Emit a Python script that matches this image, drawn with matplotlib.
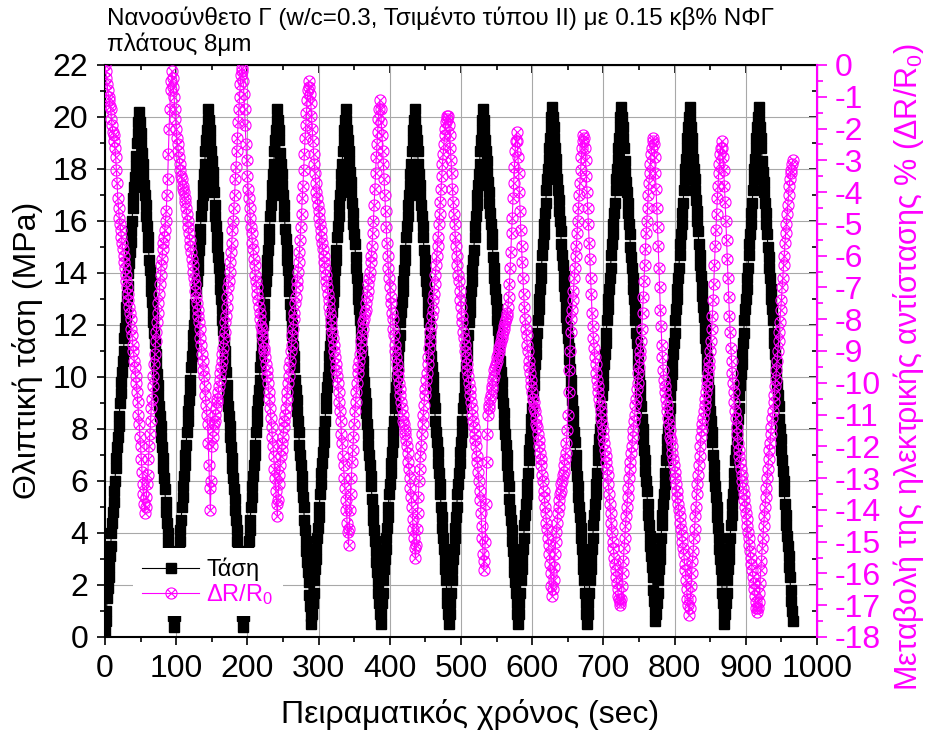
import numpy as np
import matplotlib
matplotlib.use("Agg")
import matplotlib.pyplot as plt
from matplotlib.path import Path
from matplotlib.ticker import MultipleLocator, NullFormatter

# one reading per second
time_s = np.arange(0, 967, 1)

# compressive stress (MPa), one line per loading / unloading ramp
stress_mpa = [
    0.2, 0.6, 1.0, 1.5, 1.9, 2.3, 2.7, 3.1, 3.5, 4.0, 4.4, 4.8, 5.2, 5.6, 6.0, 6.5, 6.9, 7.3, 7.7, 8.1, 8.5, 9.0, 9.4, 9.8, 10.2, 10.6, 11.0, 11.5, 11.9, 12.3, 12.7, 13.1, 13.5, 14.0, 14.4, 14.8, 15.2, 15.6, 16.0, 16.5, 16.9, 17.3, 17.7, 18.1, 18.5, 19.0, 19.4, 19.8, 20.2,
    19.8, 19.4, 19.0, 18.6, 18.2, 17.8, 17.4, 17.0, 16.6, 16.2, 15.8, 15.4, 15.0, 14.5, 14.1, 13.7, 13.3, 12.9, 12.5, 12.1, 11.7, 11.3, 10.9, 10.5, 10.1, 9.7, 9.3, 8.9, 8.5, 8.1, 7.7, 7.3, 6.9, 6.5, 6.1, 5.7, 5.2, 4.8, 4.4, 4.0, 3.6, 3.2, 2.8, 2.4, 2.0, 1.6, 1.2, 0.8, 0.4,
    0.8, 1.2, 1.6, 2.1, 2.5, 2.9, 3.3, 3.7, 4.1, 4.5, 5.0, 5.4, 5.8, 6.2, 6.6, 7.0, 7.4, 7.9, 8.3, 8.7, 9.1, 9.5, 9.9, 10.4, 10.8, 11.2, 11.6, 12.0, 12.4, 12.8, 13.3, 13.7, 14.1, 14.5, 14.9, 15.3, 15.7, 16.2, 16.6, 17.0, 17.4, 17.8, 18.2, 18.7, 19.1, 19.5, 19.9, 20.3,
    19.9, 19.5, 19.1, 18.7, 18.3, 17.9, 17.5, 17.1, 16.6, 16.2, 15.8, 15.4, 15.0, 14.6, 14.2, 13.8, 13.4, 13.0, 12.6, 12.2, 11.8, 11.4, 11.0, 10.6, 10.2, 9.7, 9.3, 8.9, 8.5, 8.1, 7.7, 7.3, 6.9, 6.5, 6.1, 5.7, 5.3, 4.9, 4.5, 4.1, 3.7, 3.3, 2.9, 2.4, 2.0, 1.6, 1.2, 0.8, 0.4,
    0.8, 1.2, 1.6, 2.1, 2.5, 2.9, 3.3, 3.7, 4.1, 4.5, 5.0, 5.4, 5.8, 6.2, 6.6, 7.0, 7.4, 7.9, 8.3, 8.7, 9.1, 9.5, 9.9, 10.4, 10.8, 11.2, 11.6, 12.0, 12.4, 12.8, 13.3, 13.7, 14.1, 14.5, 14.9, 15.3, 15.7, 16.2, 16.6, 17.0, 17.4, 17.8, 18.2, 18.7, 19.1, 19.5, 19.9, 20.3,
    19.9, 19.5, 19.1, 18.6, 18.2, 17.8, 17.4, 17.0, 16.6, 16.2, 15.7, 15.3, 14.9, 14.5, 14.1, 13.7, 13.3, 12.8, 12.4, 12.0, 11.6, 11.2, 10.8, 10.4, 9.9, 9.5, 9.1, 8.7, 8.3, 7.9, 7.4, 7.0, 6.6, 6.2, 5.8, 5.4, 5.0, 4.5, 4.1, 3.7, 3.3, 2.9, 2.5, 2.1, 1.6, 1.2, 0.8, 0.5,
    0.9, 1.3, 1.7, 2.2, 2.6, 3.0, 3.4, 3.8, 4.2, 4.6, 5.0, 5.5, 5.9, 6.3, 6.7, 7.1, 7.5, 7.9, 8.3, 8.8, 9.2, 9.6, 10.0, 10.4, 10.8, 11.2, 11.6, 12.1, 12.5, 12.9, 13.3, 13.7, 14.1, 14.5, 14.9, 15.4, 15.8, 16.2, 16.6, 17.0, 17.4, 17.8, 18.2, 18.7, 19.1, 19.5, 19.9, 20.3,
    19.9, 19.5, 19.1, 18.7, 18.3, 17.9, 17.5, 17.1, 16.7, 16.3, 15.9, 15.5, 15.1, 14.6, 14.2, 13.8, 13.4, 13.0, 12.6, 12.2, 11.8, 11.4, 11.0, 10.6, 10.2, 9.8, 9.4, 9.0, 8.6, 8.2, 7.8, 7.4, 7.0, 6.6, 6.2, 5.8, 5.3, 4.9, 4.5, 4.1, 3.7, 3.3, 2.9, 2.5, 2.1, 1.7, 1.3, 0.9, 0.5,
    0.9, 1.3, 1.7, 2.2, 2.6, 3.0, 3.4, 3.8, 4.2, 4.6, 5.0, 5.5, 5.9, 6.3, 6.7, 7.1, 7.5, 7.9, 8.3, 8.8, 9.2, 9.6, 10.0, 10.4, 10.8, 11.2, 11.6, 12.1, 12.5, 12.9, 13.3, 13.7, 14.1, 14.5, 14.9, 15.4, 15.8, 16.2, 16.6, 17.0, 17.4, 17.8, 18.2, 18.7, 19.1, 19.5, 19.9, 20.3,
    19.9, 19.5, 19.1, 18.7, 18.2, 17.8, 17.4, 17.0, 16.6, 16.2, 15.8, 15.4, 14.9, 14.5, 14.1, 13.7, 13.3, 12.9, 12.5, 12.1, 11.6, 11.2, 10.8, 10.4, 10.0, 9.6, 9.2, 8.8, 8.3, 7.9, 7.5, 7.1, 6.7, 6.3, 5.9, 5.5, 5.0, 4.6, 4.2, 3.8, 3.4, 3.0, 2.6, 2.2, 1.7, 1.3, 0.9, 0.5,
    0.9, 1.3, 1.7, 2.2, 2.6, 3.0, 3.4, 3.8, 4.2, 4.6, 5.0, 5.5, 5.9, 6.3, 6.7, 7.1, 7.5, 7.9, 8.3, 8.8, 9.2, 9.6, 10.0, 10.4, 10.8, 11.2, 11.6, 12.1, 12.5, 12.9, 13.3, 13.7, 14.1, 14.5, 14.9, 15.4, 15.8, 16.2, 16.6, 17.0, 17.4, 17.8, 18.2, 18.7, 19.1, 19.5, 19.9, 20.3,
    19.9, 19.5, 19.1, 18.7, 18.3, 17.9, 17.5, 17.1, 16.7, 16.3, 15.9, 15.5, 15.1, 14.6, 14.2, 13.8, 13.4, 13.0, 12.6, 12.2, 11.8, 11.4, 11.0, 10.6, 10.2, 9.8, 9.4, 9.0, 8.6, 8.2, 7.8, 7.4, 7.0, 6.6, 6.2, 5.8, 5.3, 4.9, 4.5, 4.1, 3.7, 3.3, 2.9, 2.5, 2.1, 1.7, 1.3, 0.9, 0.5,
    0.9, 1.3, 1.7, 2.2, 2.6, 3.0, 3.4, 3.8, 4.3, 4.7, 5.1, 5.5, 5.9, 6.3, 6.8, 7.2, 7.6, 8.0, 8.4, 8.8, 9.3, 9.7, 10.1, 10.5, 10.9, 11.3, 11.7, 12.2, 12.6, 13.0, 13.4, 13.8, 14.2, 14.7, 15.1, 15.5, 15.9, 16.3, 16.7, 17.2, 17.6, 18.0, 18.4, 18.8, 19.2, 19.6, 20.0, 20.4,
    20.0, 19.6, 19.2, 18.8, 18.4, 18.0, 17.6, 17.2, 16.8, 16.4, 16.0, 15.6, 15.1, 14.7, 14.3, 13.9, 13.5, 13.1, 12.7, 12.3, 11.9, 11.5, 11.1, 10.7, 10.3, 9.9, 9.5, 9.1, 8.7, 8.3, 7.9, 7.5, 7.0, 6.6, 6.2, 5.8, 5.4, 5.0, 4.6, 4.2, 3.8, 3.4, 3.0, 2.6, 2.2, 1.7, 1.3, 0.9, 0.5,
    0.9, 1.3, 1.7, 2.2, 2.6, 3.0, 3.4, 3.8, 4.3, 4.7, 5.1, 5.5, 5.9, 6.3, 6.8, 7.2, 7.6, 8.0, 8.4, 8.8, 9.3, 9.7, 10.1, 10.5, 10.9, 11.3, 11.7, 12.2, 12.6, 13.0, 13.4, 13.8, 14.2, 14.7, 15.1, 15.5, 15.9, 16.3, 16.7, 17.2, 17.6, 18.0, 18.4, 18.8, 19.2, 19.6, 20.0, 20.4,
    20.0, 19.6, 19.2, 18.8, 18.3, 17.9, 17.5, 17.1, 16.7, 16.3, 15.9, 15.5, 15.0, 14.6, 14.2, 13.8, 13.4, 13.0, 12.6, 12.2, 11.7, 11.3, 10.9, 10.5, 10.1, 9.7, 9.3, 8.9, 8.4, 8.0, 7.6, 7.2, 6.8, 6.4, 6.0, 5.6, 5.1, 4.7, 4.3, 3.9, 3.5, 3.1, 2.7, 2.3, 1.8, 1.4, 1.0, 0.6,
    0.9, 1.3, 1.7, 2.2, 2.6, 3.0, 3.4, 3.8, 4.3, 4.7, 5.1, 5.5, 5.9, 6.3, 6.8, 7.2, 7.6, 8.0, 8.4, 8.8, 9.3, 9.7, 10.1, 10.5, 10.9, 11.3, 11.7, 12.2, 12.6, 13.0, 13.4, 13.8, 14.2, 14.7, 15.1, 15.5, 15.9, 16.3, 16.7, 17.2, 17.6, 18.0, 18.4, 18.8, 19.2, 19.6, 20.0, 20.4,
    20.0, 19.6, 19.2, 18.8, 18.4, 18.0, 17.6, 17.2, 16.8, 16.4, 16.0, 15.6, 15.1, 14.7, 14.3, 13.9, 13.5, 13.1, 12.7, 12.3, 11.9, 11.5, 11.1, 10.7, 10.3, 9.9, 9.5, 9.1, 8.7, 8.3, 7.9, 7.5, 7.0, 6.6, 6.2, 5.8, 5.4, 5.0, 4.6, 4.2, 3.8, 3.4, 3.0, 2.6, 2.2, 1.7, 1.3, 0.9, 0.5,
    0.9, 1.3, 1.7, 2.2, 2.6, 3.0, 3.4, 3.8, 4.3, 4.7, 5.1, 5.5, 5.9, 6.3, 6.8, 7.2, 7.6, 8.0, 8.4, 8.8, 9.3, 9.7, 10.1, 10.5, 10.9, 11.3, 11.7, 12.2, 12.6, 13.0, 13.4, 13.8, 14.2, 14.7, 15.1, 15.5, 15.9, 16.3, 16.7, 17.2, 17.6, 18.0, 18.4, 18.8, 19.2, 19.6, 20.0, 20.4,
    20.0, 19.6, 19.2, 18.8, 18.3, 17.9, 17.5, 17.1, 16.7, 16.3, 15.9, 15.5, 15.0, 14.6, 14.2, 13.8, 13.4, 13.0, 12.6, 12.2, 11.7, 11.3, 10.9, 10.5, 10.1, 9.7, 9.3, 8.9, 8.4, 8.0, 7.6, 7.2, 6.8, 6.4, 6.0, 5.6, 5.1, 4.7, 4.3, 3.9, 3.5, 3.1, 2.7, 2.3, 1.8, 1.4, 1.0, 0.6,
]

# change of electrical resistance (%), one line per falling / rising branch
dr_r0 = [
    0.0, -0.2, -0.4, -0.6, -0.8, -1.0, -1.1, -1.3, -1.4, -1.7, -1.9, -2.1, -2.2, -2.4, -2.6, -2.9, -3.3, -3.7, -4.2, -4.5, -4.8, -5.0, -5.2, -5.4, -5.6, -5.8, -6.0, -6.2, -6.4, -6.6, -6.8, -7.0, -7.2, -7.4, -7.6, -7.8, -8.0, -8.3, -8.5, -8.8, -9.0, -9.3, -9.5, -9.8, -10.0, -10.3, -10.6, -11.0, -11.3, -11.7, -12.0, -12.4, -12.8, -13.2, -13.5, -13.8, -14.1,
    -13.9, -13.6, -13.2, -12.9, -12.4, -12.0, -11.6, -11.2, -10.8, -10.5, -10.1, -9.8, -9.4, -9.1, -8.7, -8.4, -8.1, -7.8, -7.5, -7.2, -6.9, -6.6, -6.3, -6.1, -5.8, -5.6, -5.4, -5.2, -4.9, -4.6, -4.1, -3.6, -2.8, -2.0, -1.4, -0.8, -0.5, -0.2,
    -0.4, -0.7, -1.0, -1.4, -1.7, -2.0, -2.3, -2.5, -2.7, -2.9, -3.1, -3.3, -3.5, -3.6, -3.8, -3.9, -4.0, -4.2, -4.3, -4.5, -4.7, -4.9, -5.1, -5.3, -5.5, -5.7, -5.9, -6.1, -6.3, -6.5, -6.7, -6.9, -7.1, -7.3, -7.5, -7.7, -7.9, -8.1, -8.3, -8.6, -8.8, -9.1, -9.3, -9.6, -9.8, -10.1, -10.4, -10.7, -11.0, -11.3, -11.9, -12.6, -13.3, -14.0,
    -13.1, -12.0, -11.7, -11.5, -11.3, -11.2, -11.0, -10.8, -10.6, -10.5, -10.3, -10.1, -9.9, -9.7, -9.5, -9.3, -9.1, -8.9, -8.6, -8.4, -8.1, -7.9, -7.6, -7.3, -7.0, -6.8, -6.5, -6.2, -5.9, -5.6, -5.2, -4.9, -4.5, -4.1, -3.6, -3.2, -2.7, -2.3, -1.8, -1.4, -1.0, -0.6, -0.3, -0.1,
    -0.2, -0.5, -0.9, -1.4, -1.9, -2.5, -3.0, -3.5, -3.9, -4.2, -4.5, -4.8, -5.1, -5.3, -5.6, -5.8, -6.1, -6.3, -6.6, -6.8, -7.0, -7.2, -7.4, -7.6, -7.8, -8.0, -8.2, -8.3, -8.5, -8.7, -8.9, -9.0, -9.2, -9.4, -9.6, -9.8, -10.0, -10.3, -10.5, -10.8, -11.1, -11.4, -11.7, -12.0, -12.3, -12.7, -13.0, -13.4, -13.8, -14.2,
    -13.7, -13.2, -12.9, -12.6, -12.3, -12.1, -11.9, -11.7, -11.4, -11.2, -11.0, -10.8, -10.5, -10.3, -10.0, -9.8, -9.5, -9.3, -9.0, -8.8, -8.5, -8.3, -8.0, -7.8, -7.5, -7.3, -7.0, -6.8, -6.5, -6.2, -5.9, -5.5, -5.1, -4.7, -4.2, -3.8, -3.3, -2.8, -2.3, -1.9, -1.5, -1.1, -0.8, -0.5,
    -0.7, -0.9, -1.2, -1.6, -2.0, -2.4, -2.8, -3.1, -3.4, -3.7, -4.0, -4.2, -4.4, -4.6, -4.8, -5.0, -5.2, -5.4, -5.6, -5.8, -6.0, -6.2, -6.4, -6.6, -6.8, -7.0, -7.2, -7.4, -7.6, -7.8, -8.0, -8.2, -8.4, -8.6, -8.8, -9.0, -9.2, -9.4, -9.6, -9.8, -10.0, -10.3, -10.6, -10.9, -11.2, -11.6, -11.9, -12.3, -12.6, -13.0, -13.3, -13.7, -14.0, -14.4, -14.7, -15.1,
    -14.6, -14.0, -13.5, -13.0, -12.5, -12.1, -11.7, -11.3, -10.9, -10.6, -10.3, -10.0, -9.7, -9.5, -9.3, -9.1, -8.9, -8.7, -8.5, -8.3, -8.1, -8.0, -7.8, -7.7, -7.5, -7.3, -7.1, -6.9, -6.7, -6.5, -6.2, -6.0, -5.7, -5.3, -4.9, -4.4, -3.9, -3.4, -2.9, -2.5, -2.1, -1.7, -1.4, -1.1,
    -1.4, -1.8, -2.2, -2.7, -3.1, -3.6, -4.1, -4.6, -5.1, -5.6, -6.0, -6.4, -6.7, -7.0, -7.3, -7.5, -7.8, -8.0, -8.3, -8.5, -8.8, -9.0, -9.2, -9.4, -9.6, -9.8, -10.0, -10.2, -10.4, -10.6, -10.8, -11.0, -11.2, -11.3, -11.5, -11.6, -11.8, -12.0, -12.2, -12.5, -12.7, -13.0, -13.3, -13.6, -13.9, -14.3, -14.6, -14.9, -15.2, -15.5,
    -15.1, -14.6, -14.1, -13.6, -13.1, -12.7, -12.3, -12.0, -11.6, -11.3, -11.0, -10.7, -10.4, -10.2, -9.9, -9.7, -9.4, -9.2, -8.9, -8.7, -8.4, -8.2, -7.9, -7.7, -7.4, -7.2, -6.9, -6.6, -6.3, -6.0, -5.7, -5.4, -5.0, -4.7, -4.3, -3.9, -3.5, -3.1, -2.8, -2.5, -2.2, -2.0, -1.8, -1.7, -1.6, -1.6,
    -1.9, -2.2, -2.6, -3.0, -3.4, -3.9, -4.3, -4.7, -5.0, -5.4, -5.7, -6.0, -6.3, -6.6, -6.8, -7.1, -7.4, -7.6, -7.9, -8.1, -8.4, -8.6, -8.8, -9.0, -9.2, -9.4, -9.6, -9.8, -10.0, -10.2, -10.4, -10.6, -10.8, -11.0, -11.2, -11.4, -11.6, -11.8, -12.0, -12.3, -12.5, -12.8, -13.1, -13.4, -13.7, -14.1, -14.5, -14.9, -15.4, -15.9,
    -15.6, -15.0, -13.8, -12.5, -11.6, -11.0, -10.8, -10.7, -10.5, -10.4, -10.2, -10.1, -9.9, -9.8, -9.6, -9.5, -9.4, -9.3, -9.2, -9.1, -9.0, -8.9, -8.8, -8.7, -8.6, -8.5, -8.4, -8.3, -8.2, -8.1, -8.0, -7.9, -7.8, -7.6, -7.3, -6.9, -6.4, -5.9, -5.3, -4.8, -4.2, -3.7, -3.2, -2.7, -2.4, -2.1,
    -2.4, -2.9, -3.4, -4.0, -4.6, -5.2, -5.7, -6.2, -6.7, -7.2, -7.6, -8.0, -8.3, -8.5, -8.8, -9.0, -9.3, -9.5, -9.7, -9.9, -10.1, -10.3, -10.5, -10.6, -10.8, -10.9, -11.1, -11.3, -11.4, -11.6, -11.8, -12.0, -12.2, -12.4, -12.6, -12.9, -13.1, -13.4, -13.6, -13.9, -14.1, -14.4, -14.6, -14.9, -15.1, -15.4, -15.7, -16.0, -16.4, -16.7,
    -16.5, -16.2, -15.8, -15.4, -15.0, -14.7, -14.4, -14.1, -13.9, -13.7, -13.5, -13.4, -13.2, -13.1, -12.9, -12.8, -12.6, -12.4, -12.2, -11.9, -11.5, -11.0, -10.3, -9.6, -9.0, -8.4, -8.0, -7.7, -7.4, -7.1, -6.7, -6.4, -6.0, -5.7, -5.3, -4.9, -4.5, -4.1, -3.7, -3.3, -2.9, -2.6, -2.4, -2.2,
    -2.3, -2.6, -3.0, -3.5, -4.0, -4.5, -5.0, -5.6, -6.1, -6.7, -7.2, -7.8, -8.2, -8.6, -8.9, -9.2, -9.4, -9.7, -9.9, -10.1, -10.3, -10.5, -10.7, -10.9, -11.1, -11.3, -11.5, -11.7, -11.9, -12.1, -12.3, -12.5, -12.7, -12.9, -13.2, -13.5, -13.8, -14.1, -14.4, -14.7, -15.0, -15.2, -15.5, -15.7, -15.9, -16.1, -16.3, -16.5, -16.7, -16.8, -16.9, -17.0,
    -16.8, -16.4, -16.0, -15.6, -15.2, -14.9, -14.5, -14.2, -13.9, -13.6, -13.3, -13.0, -12.7, -12.5, -12.2, -12.0, -11.7, -11.5, -11.2, -11.0, -10.7, -10.5, -10.2, -10.0, -9.7, -9.5, -9.2, -9.0, -8.7, -8.3, -7.8, -7.3, -6.8, -6.3, -5.8, -5.3, -4.9, -4.5, -4.1, -3.7, -3.4, -3.1, -2.8, -2.6, -2.4, -2.3,
    -2.5, -2.9, -3.4, -3.9, -4.5, -5.1, -5.7, -6.4, -7.0, -7.7, -8.2, -8.8, -9.2, -9.6, -9.9, -10.1, -10.3, -10.5, -10.7, -10.9, -11.1, -11.3, -11.5, -11.7, -11.8, -12.0, -12.2, -12.4, -12.6, -12.8, -13.0, -13.2, -13.4, -13.6, -13.8, -14.0, -14.2, -14.4, -14.6, -14.8, -15.0, -15.2, -15.4, -15.7, -15.9, -16.2, -16.5, -16.8, -17.0, -17.3,
    -17.1, -16.8, -16.4, -16.0, -15.6, -15.3, -14.9, -14.6, -14.2, -13.9, -13.5, -13.2, -12.9, -12.6, -12.3, -12.0, -11.7, -11.5, -11.3, -11.1, -10.9, -10.7, -10.5, -10.3, -10.1, -9.9, -9.7, -9.5, -9.3, -9.0, -8.7, -8.3, -7.9, -7.4, -6.9, -6.3, -5.7, -5.2, -4.7, -4.2, -3.8, -3.4, -3.1, -2.8, -2.6, -2.4,
    -2.6, -2.9, -3.3, -3.8, -4.3, -4.9, -5.5, -6.1, -6.7, -7.3, -7.9, -8.4, -8.9, -9.3, -9.7, -10.0, -10.3, -10.6, -10.9, -11.1, -11.4, -11.6, -11.9, -12.1, -12.3, -12.5, -12.7, -12.9, -13.1, -13.3, -13.5, -13.7, -13.9, -14.1, -14.3, -14.5, -14.7, -14.9, -15.1, -15.3, -15.5, -15.7, -15.9, -16.1, -16.3, -16.5, -16.7, -16.9, -17.1, -17.2,
    -17.1, -16.9, -16.6, -16.3, -15.9, -15.6, -15.2, -14.9, -14.5, -14.2, -13.9, -13.6, -13.3, -13.0, -12.7, -12.4, -12.1, -11.9, -11.6, -11.4, -11.1, -10.9, -10.6, -10.4, -10.1, -9.9, -9.6, -9.3, -9.0, -8.7, -8.4, -8.1, -7.7, -7.4, -7.0, -6.7, -6.3, -6.0, -5.6, -5.3, -5.0, -4.7, -4.4, -4.1, -3.8, -3.6, -3.4, -3.3, -3.1, -3.0,
]

title_text = ("Νανοσύνθετο Γ (w/c=0.3, Τσιμέντο τύπου ΙΙ) με 0.15 κβ% ΝΦΓ\n"
              "πλάτους 8μm")
MAG = "#ff00ff"

plt.rcParams['font.family'] = ['Liberation Sans', 'DejaVu Sans']
plt.rcParams['axes.unicode_minus'] = False
plt.rcParams['mathtext.fontset'] = 'custom'
plt.rcParams['mathtext.rm'] = 'Liberation Sans'
plt.rcParams['mathtext.it'] = 'Liberation Sans:italic'


def circle_cross():
    circ = Path.unit_circle()
    d = 0.707
    cross = Path([(-d, -d), (d, d), (-d, d), (d, -d)],
                 [Path.MOVETO, Path.LINETO, Path.MOVETO, Path.LINETO])
    return Path.make_compound_path(circ, cross)


fig = plt.figure(figsize=(9.27, 7.32), dpi=100)
ax = fig.add_axes([105 / 927, 1 - 637 / 732, 712 / 927, 572 / 732])
ax2 = ax.twinx()

l1, = ax.plot(time_s, stress_mpa, color="black", lw=0.8, marker="s", ms=7.2,
              mfc="black", mec="black", label="Τάση", zorder=3)
l2, = ax2.plot(time_s, dr_r0, color=MAG, lw=0.8, marker=circle_cross(), ms=8,
               mfc="none", mec=MAG, mew=0.8, label=r"ΔR/R$_0$", zorder=3)

ax.set_xlim(0, 1000)
ax.set_ylim(0, 22)
ax2.set_ylim(-18, 0)

ax.xaxis.set_major_locator(MultipleLocator(100))
ax.xaxis.set_minor_locator(MultipleLocator(50))
ax.yaxis.set_major_locator(MultipleLocator(2))
ax.yaxis.set_minor_locator(MultipleLocator(1))
ax2.yaxis.set_major_locator(MultipleLocator(1))
ax2.yaxis.set_minor_locator(MultipleLocator(0.5))

ax.grid(True, which="major", color="#a8a8a8", lw=0.8)
ax.set_axisbelow(True)

ax.tick_params(which="both", direction="out", width=1.2, labelsize=23,
               top=False, right=False, pad=6)
ax.tick_params(which="major", length=6)
ax.tick_params(which="minor", length=3.5)

# mirrored black ticks pointing inside (top and right)
secx = ax.secondary_xaxis("top")
secx.xaxis.set_major_locator(MultipleLocator(100))
secx.xaxis.set_minor_locator(MultipleLocator(50))
secx.xaxis.set_major_formatter(NullFormatter())
secx.tick_params(which="both", direction="in", width=1.2)
secx.tick_params(which="major", length=6)
secx.tick_params(which="minor", length=3.5)

secy = ax.secondary_yaxis("right")
secy.yaxis.set_major_locator(MultipleLocator(2))
secy.yaxis.set_minor_locator(MultipleLocator(1))
secy.yaxis.set_major_formatter(NullFormatter())
secy.tick_params(which="both", direction="in", width=1.2)
secy.tick_params(which="major", length=6)
secy.tick_params(which="minor", length=3.5)
secy.spines["right"].set_color(MAG)

ax2.tick_params(which="both", direction="out", colors=MAG, width=1.2,
                labelsize=23, pad=6)
ax2.tick_params(which="major", length=7)
ax2.tick_params(which="minor", length=4)
for s in ("left", "top", "bottom"):
    ax2.spines[s].set_visible(False)
ax2.spines["right"].set_color(MAG)
ax2.spines["right"].set_linewidth(1.5)
for s in ("left", "top", "bottom"):
    ax.spines[s].set_linewidth(1.5)

fig.text(28 / 927, 1 - 350 / 732, "Θλιπτική τάση (MPa)", rotation=90,
         ha="center", va="center", fontsize=23)
fig.text(470 / 927, 1 - 715 / 732, "Πειραματικός χρόνος (sec)",
         ha="center", va="center", fontsize=23)
fig.text(908 / 927, 1 - 367 / 732, r"Μεταβολή της ηλεκτρικής αντίστασης % (ΔR/R$_0$)",
         rotation=90, ha="center", va="center", fontsize=22, color=MAG)
fig.text(107 / 927, 1 - 6 / 732, title_text, ha="left", va="top",
         fontsize=17.5, linespacing=1.15)

leg = ax2.legend(handles=[l1, l2], loc="upper left",
                 bbox_to_anchor=((133 - 105) / 712, (637 - 548) / 572),
                 borderaxespad=0, frameon=True, framealpha=1,
                 facecolor="white", edgecolor="none", fontsize=17,
                 labelcolor="linecolor", numpoints=1, handlelength=2.4,
                 handletextpad=0.3, borderpad=0.4, labelspacing=0.05,
                 fancybox=False)

fig.savefig("out.png", dpi=100)
